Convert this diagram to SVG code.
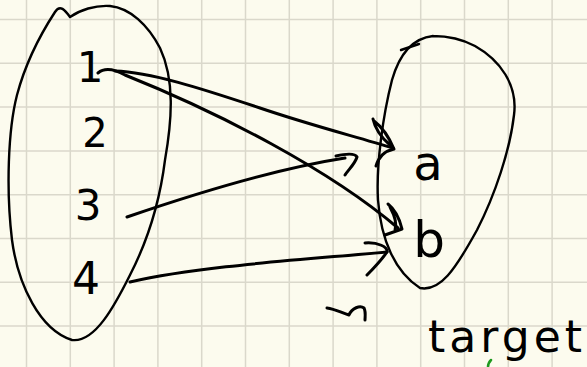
<svg xmlns="http://www.w3.org/2000/svg" width="587" height="367" viewBox="0 0 587 367">
<defs>
<style>
.bg{fill:#FCFBEE}
.grid{stroke:#DAD8CB;stroke-width:1.5;fill:none}
.ink{stroke:#000;stroke-width:2.4;fill:none;stroke-linecap:round;stroke-linejoin:round}
.thick{stroke-width:3}
.lbl{font-family:"DejaVu Sans","Liberation Sans",sans-serif;fill:#000;text-anchor:middle}
</style>
</defs>
<rect class="bg" x="0" y="0" width="587" height="367"/>
<path class="grid" d="M26.5,0V367M70.3,0V367M114.1,0V367M157.9,0V367M201.7,0V367M245.5,0V367M289.3,0V367M333.1,0V367M376.9,0V367M420.7,0V367M464.5,0V367M508.3,0V367M552.1,0V367M0,19.5H587M0,63.3H587M0,107.1H587M0,150.9H587M0,194.7H587M0,238.5H587M0,282.3H587M0,326.1H587"/>
<g id="domain">
<path class="ink" d="M70,17 C65,10 60,4 55,12 C40,35 25,65 17,95 C8,130 6,190 12,240 C18,285 40,330 72,340 C95,343 115,305 130,275 C148,240 160,200 165,160 C172,120 175,80 160,48 C148,25 130,8 110,6 C95,5 80,10 70,17"/>
<text class="lbl" x="90" y="82" font-size="42">1</text>
<text class="lbl" x="95" y="147" font-size="40">2</text>
<text class="lbl" x="88" y="220" font-size="42">3</text>
<text class="lbl" x="86" y="294" font-size="44">4</text>
</g>
<g id="target-set">
<path class="ink" d="M433,36 C415,38 400,52 392,80 C383,115 376,165 378,200 C381,240 395,272 420,288 C440,292 455,270 477,230 C495,195 510,150 514,115 C518,85 500,60 475,46 C460,38 445,36 433,36"/>
<path class="ink" d="M401,50 L419,44"/>
<text class="lbl" x="428" y="180" font-size="48">a</text>
<text class="lbl" x="429" y="257" font-size="50">b</text>
</g>
<g id="connectors">
<path class="ink thick" d="M98,73 C104,68 114,69 125,75 C220,113 330,170 398,228"/>
<path class="ink thick" d="M115,71 C150,72 200,88 260,108 C310,125 350,135 393,148"/>
<path class="ink thick" d="M374,121 Q386,130 394,149 Q380,152 376,166 M373,119 Q376,133 390,145"/>
<path class="ink thick" d="M388,204 Q398,212 402,229 L385,235 M390,207 Q398,222 395,230"/>
<path class="ink thick" d="M127,217 C200,192 280,168 345,158"/>
<path class="ink thick" d="M336,156 C345,154 355,153 357,157 C355,164 348,170 345,175"/>
<path class="ink thick" d="M130,282 C200,266 300,260 387,252"/>
<path class="ink thick" d="M365,243 C378,242 388,247 387,252 C380,262 372,270 367,275"/>
</g>
<g id="notes">
<path class="ink thick" d="M327,308 C335,309 342,313 349,315 C352,308 360,305 364,308 C366,312 365,317 365,320"/>
<text class="lbl" x="505" y="352" font-size="44" textLength="154" lengthAdjust="spacing">target</text>
<path d="M491,360 Q488,363 488,367" stroke="#1E9A1E" stroke-width="2.5" fill="none" stroke-linecap="round"/>
</g>
</svg>
